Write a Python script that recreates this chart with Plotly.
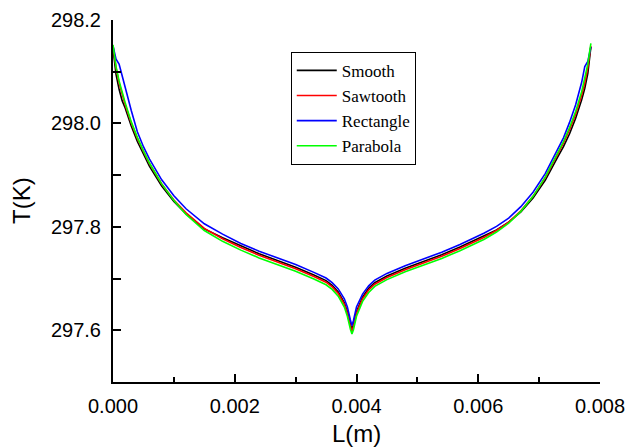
import plotly.graph_objects as go

# ---- data ----
L_m = [0, 0.00005, 0.0001, 0.00015, 0.0002, 0.0003, 0.0004, 0.0005, 0.0006, 0.0008,
       0.001, 0.0012, 0.0015, 0.0018, 0.0021, 0.0024, 0.0027, 0.003, 0.0033, 0.0035,
       0.0036, 0.0037, 0.0038, 0.00385, 0.0039, 0.003925, 0.00395, 0.004, 0.0041, 0.0042,
       0.0043, 0.0045, 0.0048, 0.0051, 0.0054, 0.0057, 0.0061, 0.0063, 0.0065, 0.0067,
       0.0069, 0.0071, 0.0073, 0.0074, 0.0075, 0.0076, 0.0077, 0.00775, 0.0078, 0.00785]

smooth = [298.145, 298.095, 298.066, 298.044, 298.030, 297.995, 297.965, 297.940, 297.917, 297.879,
          297.849, 297.825, 297.796, 297.779, 297.763, 297.748, 297.735, 297.722, 297.707, 297.696,
          297.687, 297.674, 297.653, 297.636, 297.612, 297.601, 297.611, 297.636, 297.664, 297.681,
          297.692, 297.705, 297.720, 297.733, 297.746, 297.761, 297.782, 297.794, 297.809, 297.829,
          297.856, 297.890, 297.934, 297.955, 297.980, 298.010, 298.046, 298.068, 298.097, 298.148]

sawtooth = [298.150, 298.108, 298.078, 298.054, 298.036, 298.001, 297.971, 297.946, 297.922, 297.883,
            297.852, 297.827, 297.797, 297.777, 297.760, 297.745, 297.732, 297.719, 297.704, 297.693,
            297.684, 297.671, 297.650, 297.633, 297.608, 297.598, 297.607, 297.633, 297.661, 297.678,
            297.689, 297.702, 297.717, 297.730, 297.743, 297.758, 297.780, 297.793, 297.809, 297.831,
            297.859, 297.895, 297.940, 297.962, 297.988, 298.018, 298.055, 298.078, 298.108, 298.150]

rectangle = [298.150, 298.124, 298.115, 298.095, 298.070, 298.025, 297.984, 297.955, 297.931, 297.891,
             297.860, 297.835, 297.806, 297.786, 297.768, 297.753, 297.740, 297.727, 297.712, 297.701,
             297.692, 297.680, 297.661, 297.645, 297.620, 297.609, 297.619, 297.645, 297.670, 297.686,
             297.697, 297.710, 297.725, 297.738, 297.751, 297.766, 297.788, 297.801, 297.817, 297.839,
             297.867, 297.903, 297.949, 297.972, 298.002, 298.036, 298.080, 298.110, 298.120, 298.148]

parabola = [298.152, 298.110, 298.082, 298.058, 298.040, 298.003, 297.973, 297.947, 297.923, 297.883,
            297.851, 297.824, 297.793, 297.772, 297.755, 297.740, 297.727, 297.714, 297.699, 297.688,
            297.679, 297.666, 297.645, 297.627, 297.602, 297.593, 297.601, 297.627, 297.656, 297.673,
            297.685, 297.698, 297.713, 297.726, 297.739, 297.754, 297.776, 297.790, 297.807, 297.830,
            297.859, 297.896, 297.942, 297.965, 297.992, 298.023, 298.062, 298.087, 298.115, 298.155]

series_names = ["Smooth", "Sawtooth", "Rectangle", "Parabola"]
series_values = [smooth, sawtooth, rectangle, parabola]
series_colors = ["#000000", "#ff0000", "#0000ff", "#00ff00"]

x_ticks = [0, 0.002, 0.004, 0.006, 0.008]
y_ticks = [297.6, 297.8, 298.0, 298.2]

fig = go.Figure()
for name, vals, col in zip(series_names, series_values, series_colors):
    fig.add_trace(go.Scatter(x=L_m, y=vals, mode="lines", name=name,
                             line=dict(color=col, width=1.6)))

axis_font = dict(family="Liberation Sans", size=20, color="black")

fig.update_layout(
    width=627, height=448,
    margin=dict(l=113, r=27, t=20, b=66),
    paper_bgcolor="white", plot_bgcolor="white",
    showlegend=True,
    legend=dict(x=0.365, y=0.912, xanchor="left", yanchor="top",
                bordercolor="black", borderwidth=1, bgcolor="white",
                font=dict(family="Liberation Serif", size=17, color="black"),
                tracegroupgap=0, itemwidth=40),
    xaxis=dict(range=[0, 0.008], tickmode="array", tickvals=x_ticks,
               ticktext=[f"{v:.3f}" for v in x_ticks],
               showgrid=False, zeroline=False, showline=True, linecolor="black", linewidth=2,
               ticks="inside", ticklen=8, tickwidth=1.5, tickcolor="black",
               minor=dict(dtick=0.001, tick0=0, ticks="inside", ticklen=5, tickwidth=1.5,
                          tickcolor="black", showgrid=False),
               tickfont=axis_font, ticklabelstandoff=5, automargin=False),
    yaxis=dict(range=[297.5, 298.2], tickmode="array", tickvals=y_ticks,
               ticktext=[f"{v:.1f}" for v in y_ticks],
               showgrid=False, zeroline=False, showline=True, linecolor="black", linewidth=2,
               ticks="inside", ticklen=8, tickwidth=1.5, tickcolor="black",
               minor=dict(dtick=0.1, tick0=297.5, ticks="inside", ticklen=8, tickwidth=1.5,
                          tickcolor="black", showgrid=False),
               tickfont=axis_font, ticklabelstandoff=6, automargin=False),
    annotations=[
        dict(text="L(m)", xref="paper", yref="paper", x=0.5, y=0, yshift=-51,
             xanchor="center", yanchor="middle", showarrow=False,
             font=dict(family="Liberation Sans", size=24, color="black")),
        dict(text="T(K)", xref="paper", yref="paper", x=0, y=0.5, xshift=-92,
             xanchor="center", yanchor="middle", showarrow=False, textangle=-90,
             font=dict(family="Liberation Sans", size=24, color="black")),
    ],
)

fig.write_html("out.html")
